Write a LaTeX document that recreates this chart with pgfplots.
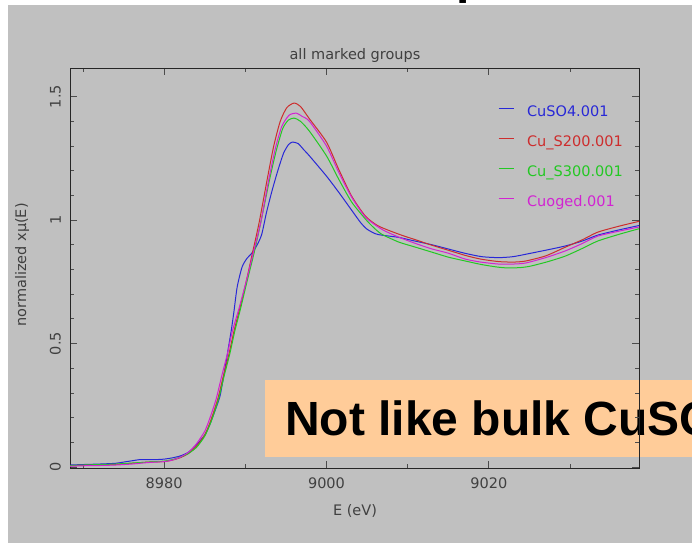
\documentclass[border=0pt]{standalone}
\usepackage{pgfplots}
\pgfplotsset{compat=1.18}
\usepackage{fontspec}
\setmainfont{Liberation Sans}
\newfontfamily\plotfont{DejaVu Sans}
\definecolor{cblue}{RGB}{40,40,215}
\definecolor{cred}{RGB}{205,45,45}
\definecolor{cgreen}{RGB}{35,200,35}
\definecolor{cmag}{RGB}{210,35,210}
\definecolor{panel}{RGB}{192,192,192}
\definecolor{boxor}{RGB}{255,204,153}
\definecolor{txt}{RGB}{64,64,64}
\begin{document}
\begin{tikzpicture}[x=1pt,y=1pt]
\useasboundingbox (0,0) rectangle (692,543);
\fill[white] (0,0) rectangle (692,543);
\node[anchor=base west, inner sep=0pt, font=\bfseries\fontsize{48}{48}\selectfont] at (456,549) {p};
\fill[panel] (8,0) rectangle (692,538);
\node[font=\plotfont\fontsize{14.5}{14.5}\selectfont, text=txt] at (355,487) {all marked groups};
\node[font=\plotfont\fontsize{14.5}{14.5}\selectfont, text=txt] at (355,32) {E (eV)};
\node[font=\plotfont\fontsize{14.5}{14.5}\selectfont, text=txt, rotate=90] at (22,278) {normalized xμ(E)};
\fill[boxor] (265,86) rectangle (700,163);
\node[anchor=base west, inner sep=0pt, font=\bfseries\fontsize{48}{48}\selectfont] at (285,107) {Not like bulk CuSO4};
\begin{axis}[
  at={(70pt,75pt)}, anchor=south west,
  scale only axis, width=569pt, height=400pt,
  xmin=8968.4, xmax=9038.5, ymin=-0.004, ymax=1.616,
  xtick={8980,9000,9020}, minor xtick={8970,8990,9010,9030},
  ytick={0,0.5,1,1.5}, minor y tick num=4,
  tick align=inside, major tick length=7pt, minor tick length=4pt,
  every tick/.style={black!70, line width=0.8pt},
  axis line style={black!85, line width=0.9pt},
  /pgf/number format/assume math mode=true,
  /pgf/number format/set thousands separator={},
  scaled x ticks=false,
  ticklabel style={font=\plotfont\fontsize{14.5}{14.5}\selectfont, text=txt},
  xticklabel style={inner sep=0pt}, xticklabel shift=10pt,
  yticklabel style={rotate=90, anchor=south, inner sep=0pt}, yticklabel shift=9pt,
  legend style={at={(0.752,0.906)}, anchor=north west, draw=none, fill=none,
    inner sep=0pt, row sep=16pt, column sep=13pt, font=\plotfont\fontsize{14.5}{14.5}\selectfont,
    nodes={inner sep=0pt, text height=11pt, text depth=3pt}},
  legend cell align=left,
  legend image code/.code={\draw[#1] (0pt,4pt) -- (15pt,4pt);},
  every axis plot/.append style={line width=1pt, no marks, smooth, tension=0.4},
]
\addplot[cblue] coordinates {
(8968.4,0.008)(8970,0.01)(8972,0.012)(8974,0.015)(8975,0.02)(8976,0.025)(8977,0.03)(8978,0.03)(8979,0.03)(8980,0.032)(8981,0.037)(8982,0.045)(8983,0.06)(8984,0.09)(8985,0.13)(8985.6,0.17)(8986.4,0.24)(8986.9,0.29)(8987.5,0.40)(8988,0.50)(8988.3,0.56)(8988.6,0.63)(8989,0.73)(8989.6,0.81)(8990.2,0.845)(8990.7,0.862)(8991.3,0.89)(8992,0.94)(8992.6,1.03)(8993.3,1.12)(8994,1.20)(8994.7,1.27)(8995.3,1.305)(8995.8,1.316)(8996.5,1.31)(8997.2,1.285)(8997.9,1.26)(9000,1.178)(9001.5,1.113)(9003.1,1.04)(9004.2,0.99)(9005,0.963)(9006,0.945)(9006.8,0.939)(9008.9,0.93)(9010.9,0.915)(9013,0.90)(9015,0.883)(9017,0.866)(9019.1,0.852)(9021.2,0.848)(9023,0.852)(9025.2,0.866)(9027.3,0.88)(9029.4,0.895)(9031.5,0.915)(9033.4,0.939)(9036,0.96)(9038.5,0.978)};
\addlegendentry{\textcolor{cblue}{CuSO4.001}}
\addplot[cred] coordinates {
(8968.4,0.005)(8970,0.007)(8972,0.008)(8974,0.01)(8976,0.015)(8978,0.02)(8980,0.022)(8981,0.028)(8982,0.038)(8983,0.055)(8984,0.085)(8985,0.13)(8985.7,0.185)(8986.6,0.275)(8987.3,0.37)(8988,0.46)(8988.6,0.55)(8989.3,0.64)(8990.1,0.75)(8990.9,0.87)(8991.7,0.99)(8992.7,1.166)(8993.5,1.30)(8994.3,1.40)(8995.1,1.455)(8996,1.474)(8996.8,1.46)(8997.9,1.41)(9000,1.316)(9001.5,1.206)(9003.1,1.097)(9004.8,1.016)(9006.4,0.976)(9008.9,0.943)(9011,0.92)(9013,0.898)(9015,0.878)(9017.1,0.857)(9019,0.842)(9021.2,0.832)(9023,0.83)(9024.5,0.834)(9027,0.855)(9029.4,0.89)(9031.5,0.92)(9033.4,0.951)(9036,0.975)(9038.5,0.995)};
\addlegendentry{\textcolor{cred}{Cu\_S200.001}}
\addplot[cgreen] coordinates {
(8968.4,0.006)(8970,0.008)(8972,0.01)(8974,0.012)(8976,0.016)(8978,0.02)(8980,0.024)(8981,0.03)(8982,0.04)(8983,0.055)(8984,0.08)(8985,0.125)(8985.8,0.185)(8986.7,0.275)(8987.4,0.37)(8988.1,0.46)(8988.7,0.55)(8989.4,0.64)(8990.2,0.75)(8991.1,0.87)(8991.9,0.99)(8993,1.166)(8993.8,1.28)(8994.6,1.37)(8995.3,1.405)(8996,1.413)(8996.8,1.40)(8997.9,1.36)(9000,1.26)(9001.5,1.166)(9003.1,1.073)(9004.8,1.004)(9005.8,0.97)(9006.8,0.943)(9008.9,0.911)(9011,0.89)(9013,0.87)(9015,0.85)(9017,0.835)(9019.1,0.82)(9021,0.81)(9022.4,0.806)(9024,0.808)(9025.2,0.814)(9027.3,0.832)(9029.4,0.854)(9031.5,0.885)(9033.4,0.915)(9036,0.942)(9038.5,0.965)};
\addlegendentry{\textcolor{cgreen}{Cu\_S300.001}}
\addplot[cmag] coordinates {
(8968.4,0.003)(8970,0.005)(8972,0.006)(8974,0.008)(8976,0.012)(8978,0.018)(8980,0.022)(8981,0.028)(8982,0.04)(8983,0.06)(8984,0.095)(8985,0.145)(8985.6,0.195)(8986.4,0.275)(8987.1,0.37)(8987.8,0.46)(8988.4,0.55)(8989.2,0.64)(8990.1,0.75)(8991.0,0.87)(8991.9,0.99)(8992.9,1.166)(8993.7,1.29)(8994.5,1.38)(8995.4,1.425)(8996.3,1.433)(8997,1.42)(8997.9,1.40)(9000,1.30)(9001.5,1.194)(9003.1,1.093)(9004.8,1.012)(9006.8,0.963)(9008.9,0.931)(9011,0.905)(9013,0.883)(9015,0.866)(9017.1,0.842)(9019,0.83)(9021.2,0.822)(9023,0.822)(9024.5,0.826)(9027,0.848)(9029.4,0.875)(9031.5,0.905)(9033.4,0.935)(9036,0.955)(9038.5,0.972)};
\addlegendentry{\textcolor{cmag}{Cuoged.001}}
\end{axis}
\end{tikzpicture}
\end{document}
